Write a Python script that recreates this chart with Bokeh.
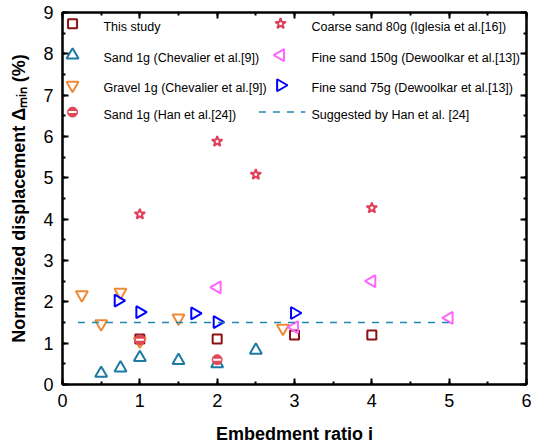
import math
from bokeh.plotting import figure
from bokeh.models import LinearAxis, Label, Range1d, FixedTicker
from bokeh.embed import file_html
from bokeh.resources import INLINE

# ---- data ----
this_x = [1, 2, 3, 4]
this_y = [1.1, 1.1, 1.2, 1.2]

chev_sand_x = [0.5, 0.75, 1.0, 1.5, 2.0, 2.5]
chev_sand_y = [0.27, 0.4, 0.65, 0.58, 0.5, 0.83]

chev_gravel_x = [0.25, 0.5, 0.75, 1.0, 1.5, 2.85]
chev_gravel_y = [2.17, 1.47, 2.23, 1.05, 1.61, 1.36]

han_x = [1.0, 2.0]
han_y = [1.08, 0.6]

iglesia_x = [1, 2, 2.5, 4]
iglesia_y = [4.12, 5.88, 5.08, 4.27]

dew150_x = [2, 3, 4, 5]
dew150_y = [2.35, 1.39, 2.5, 1.61]

dew75_x = [0.72, 1.0, 1.71, 2.0, 3.0]
dew75_y = [2.03, 1.75, 1.72, 1.51, 1.73]

han_line_x = [0.2, 5.0]
han_line_y = [1.5, 1.5]

x_ticks = [0, 1, 2, 3, 4, 5, 6]
y_ticks = [0, 1, 2, 3, 4, 5, 6, 7, 8, 9]
x_minor = [0.5 * k for k in range(0, 13)]
y_minor = [0.5 * k for k in range(0, 19)]

labels1 = ["This study", "Sand 1g (Chevalier et al.[9])", "Gravel 1g (Chevalier et al.[9])",
           "Sand 1g (Han et al.[24])"]
labels2 = ["Coarse sand 80g (Iglesia et al.[16])", "Fine sand 150g (Dewoolkar et al.[13])",
           "Fine sand 75g (Dewoolkar et al.[13])", "Suggested by Han et al. [24]"]

x_title = "Embedment ratio i"
y_title = "Normalized displacement \u0394\u2098\u1d62\u2099 (%)"

FONT = "Liberation Sans"

C_SQ = "#8b1010"
C_TU = "#1f7aa3"
C_TD = "#f08a35"
C_HC = "#e04858"
C_ST = "#e0405a"
C_TL = "#ff66ff"
C_TR = "#0000ff"
C_LN = "#1f88b0"

p = figure(width=538, height=448, output_backend="svg", toolbar_location=None,
           x_range=Range1d(0, 6), y_range=Range1d(0, 9),
           min_border_left=62, min_border_right=12, min_border_top=12,
           min_border_bottom=64)
p.grid.visible = False
p.outline_line_color = "black"
p.outline_line_width = 2
p.background_fill_color = "white"
p.border_fill_color = "white"

p.xaxis[0].ticker = FixedTicker(ticks=x_ticks, minor_ticks=x_minor)
p.yaxis[0].ticker = FixedTicker(ticks=y_ticks, minor_ticks=y_minor)
for ax in (p.xaxis[0], p.yaxis[0]):
    ax.axis_line_width = 2
    ax.major_tick_in = 6
    ax.major_tick_out = 0
    ax.minor_tick_in = 3
    ax.minor_tick_out = 0
    ax.major_tick_line_width = 2
    ax.minor_tick_line_width = 2
    ax.major_label_text_font = FONT
    ax.major_label_text_font_size = "18px"
    ax.major_label_text_color = "black"
    ax.major_label_standoff = 9
    ax.axis_label_text_font = FONT
    ax.axis_label_text_font_style = "bold"
    ax.axis_label_text_font_size = "18px"
    ax.axis_label_text_color = "black"

p.xaxis[0].axis_label = x_title
p.xaxis[0].axis_label_standoff = 14
p.yaxis[0].axis_label = y_title
p.yaxis[0].axis_label_standoff = 11

top = LinearAxis(ticker=FixedTicker(ticks=x_ticks, minor_ticks=x_minor))
right = LinearAxis(ticker=FixedTicker(ticks=y_ticks, minor_ticks=y_minor))
top.major_label_overrides = {t: "" for t in x_ticks}
right.major_label_overrides = {t: "" for t in y_ticks}
for ax in (top, right):
    ax.axis_line_width = 2
    ax.major_tick_in = 6
    ax.major_tick_out = 0
    ax.minor_tick_in = 3
    ax.minor_tick_out = 0
    ax.major_tick_line_width = 2
    ax.minor_tick_line_width = 2
    ax.major_label_standoff = 0
p.add_layout(top, "above")
p.add_layout(right, "right")

# ---- series ----
p.scatter(this_x, this_y, marker="square", size=9, line_color=C_SQ, fill_color=None, line_width=2)
p.scatter(chev_sand_x, chev_sand_y, marker="triangle", size=12, line_color=C_TU,
          fill_color=None, line_width=2)
p.scatter(chev_gravel_x, chev_gravel_y, marker="inverted_triangle", size=12,
          line_color=C_TD, fill_color=None, line_width=2)
p.scatter(han_x, han_y, marker="circle", size=10, line_color=C_HC, fill_color=C_HC, line_width=1)
p.scatter(han_x, han_y, marker="dash", size=8, line_color="white", line_width=2)
p.scatter(iglesia_x, iglesia_y, marker="star", size=11, line_color=C_ST, fill_color=None, line_width=2)
p.scatter(dew150_x, dew150_y, marker="triangle", angle=math.pi / 2, size=12,
          line_color=C_TL, fill_color=None, line_width=2)
p.scatter(dew75_x, dew75_y, marker="triangle", angle=-math.pi / 2, size=12,
          line_color=C_TR, fill_color=None, line_width=2)
p.line(han_line_x, han_line_y, line_color=C_LN, line_width=1.5, line_dash="7 7")

# ---- legend (manual) ----
g1 = 0.13
g2 = 2.82
t1 = 0.53
t2 = 3.22
rows = [8.66, 7.9, 7.17, 6.52]
gy = [r + 0.07 for r in rows]
p.scatter([g1], [gy[0]], marker="square", size=9, line_color=C_SQ, fill_color=None, line_width=2)
p.scatter([g1], [gy[1]], marker="triangle", size=12, line_color=C_TU, fill_color=None, line_width=2)
p.scatter([g1], [gy[2]], marker="inverted_triangle", size=12, line_color=C_TD, fill_color=None, line_width=2)
p.scatter([g1], [gy[3]], marker="circle", size=10, line_color=C_HC, fill_color=C_HC)
p.scatter([g1], [gy[3]], marker="dash", size=8, line_color="white", line_width=2)
p.scatter([g2], [gy[0]], marker="star", size=11, line_color=C_ST, fill_color=None, line_width=2)
p.scatter([g2], [gy[1]], marker="triangle", angle=math.pi / 2, size=12, line_color=C_TL,
          fill_color=None, line_width=2)
p.scatter([g2], [gy[2]], marker="triangle", angle=-math.pi / 2, size=12, line_color=C_TR,
          fill_color=None, line_width=2)
p.line([2.54, 3.14], [gy[3], gy[3]], line_color=C_LN, line_width=1.5, line_dash="7 7")

for i, t in enumerate(labels1):
    p.add_layout(Label(x=t1, y=rows[i], text=t, text_font=FONT, text_font_size="12.5px",
                       text_baseline="middle", text_color="black"))
for i, t in enumerate(labels2):
    p.add_layout(Label(x=t2, y=rows[i], text=t, text_font=FONT, text_font_size="12.5px",
                       text_baseline="middle", text_color="black"))

open("out.html", "w").write(file_html(p, INLINE))
